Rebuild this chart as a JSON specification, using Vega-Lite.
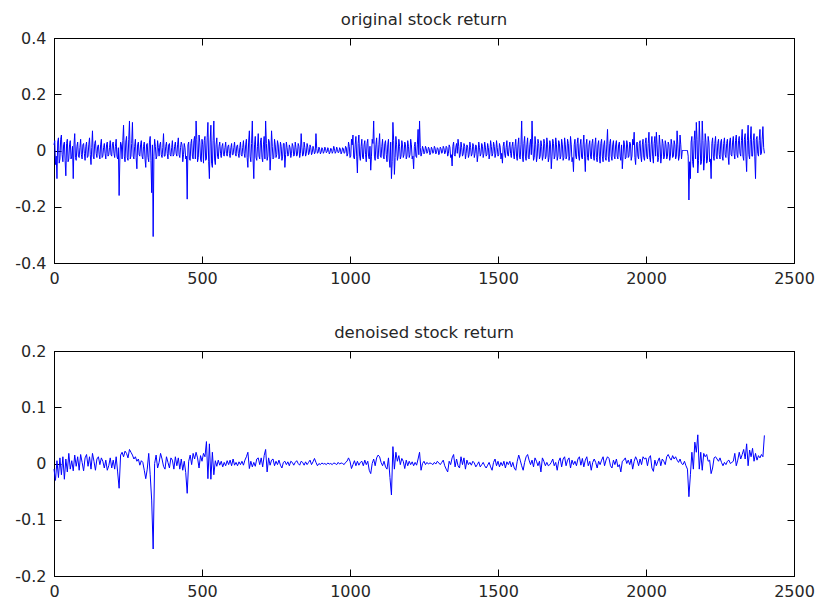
{
"$schema": "https://vega.github.io/schema/vega-lite/v6.json",
"padding": {"left": 14, "top": 11, "right": 2, "bottom": 2},
"background": "white",
"data": {"values": [
{"t":0,"o":0.02,"d":-0.01},{"t":5,"o":-0.05,"d":-0.03},{"t":10,"o":-0.10,"d":0.005},{"t":15,"o":0.045,"d":-0.025},{"t":20,"o":-0.03,"d":0.01},{"t":25,"o":0.055,"d":-0.02},{"t":30,"o":-0.04,"d":0.012},{"t":35,"o":0.03,"d":-0.028},{"t":40,"o":-0.09,"d":0.008},{"t":45,"o":0.04,"d":-0.015},
{"t":50,"o":-0.03,"d":0.018},{"t":55,"o":0.035,"d":-0.01},{"t":60,"o":-0.02,"d":0.005},{"t":65,"o":-0.10,"d":-0.013},{"t":70,"o":0.06,"d":0.015},{"t":75,"o":-0.035,"d":-0.005},{"t":80,"o":0.03,"d":0.012},{"t":85,"o":-0.025,"d":-0.012},{"t":90,"o":0.04,"d":0.016},{"t":95,"o":-0.03,"d":0.002},
{"t":100,"o":0.025,"d":-0.013},{"t":105,"o":-0.035,"d":0.01},{"t":110,"o":0.03,"d":0.016},{"t":115,"o":-0.02,"d":-0.005},{"t":120,"o":0.045,"d":0.012},{"t":125,"o":-0.05,"d":-0.01},{"t":130,"o":0.07,"d":0.018},{"t":135,"o":-0.03,"d":0.004},{"t":140,"o":0.035,"d":-0.012},{"t":145,"o":-0.025,"d":0.008},
{"t":150,"o":0.02,"d":0.012},{"t":155,"o":-0.03,"d":-0.002},{"t":160,"o":0.04,"d":0.01},{"t":165,"o":-0.02,"d":0.004},{"t":170,"o":0.025,"d":-0.008},{"t":175,"o":-0.03,"d":0.006},{"t":180,"o":0.03,"d":-0.012},{"t":185,"o":-0.015,"d":-0.004},{"t":190,"o":0.035,"d":0.01},{"t":195,"o":-0.02,"d":-0.008},
{"t":200,"o":0.03,"d":0.006},{"t":205,"o":-0.025,"d":-0.01},{"t":210,"o":0.04,"d":0.012},{"t":215,"o":-0.03,"d":-0.015},{"t":220,"o":-0.16,"d":-0.044},{"t":225,"o":0.03,"d":0.015},{"t":230,"o":-0.03,"d":0.02},{"t":235,"o":0.09,"d":0.012},{"t":240,"o":-0.04,"d":0.022},{"t":245,"o":0.05,"d":0.018},
{"t":250,"o":-0.035,"d":0.01},{"t":255,"o":0.105,"d":0.025},{"t":260,"o":-0.02,"d":0.02},{"t":265,"o":0.10,"d":0.015},{"t":270,"o":-0.03,"d":0.008},{"t":275,"o":0.04,"d":0.012},{"t":280,"o":-0.065,"d":0.004},{"t":285,"o":0.03,"d":0.008},{"t":290,"o":-0.02,"d":-0.003},{"t":295,"o":0.035,"d":0.005},
{"t":300,"o":-0.03,"d":0.002},{"t":305,"o":0.03,"d":-0.012},{"t":310,"o":-0.06,"d":-0.027},{"t":315,"o":0.025,"d":-0.01},{"t":320,"o":-0.04,"d":0.018},{"t":325,"o":0.05,"d":-0.02},{"t":330,"o":-0.15,"d":-0.065},{"t":335,"o":-0.306,"d":-0.152},{"t":340,"o":0.04,"d":0.0},{"t":345,"o":-0.03,"d":0.015},
{"t":350,"o":0.035,"d":-0.008},{"t":355,"o":-0.02,"d":0.002},{"t":360,"o":0.03,"d":0.018},{"t":365,"o":-0.025,"d":0.008},{"t":370,"o":0.06,"d":-0.005},{"t":375,"o":-0.02,"d":-0.01},{"t":380,"o":0.03,"d":0.012},{"t":385,"o":-0.03,"d":0.002},{"t":390,"o":0.025,"d":-0.008},{"t":395,"o":-0.02,"d":0.01},
{"t":400,"o":0.035,"d":0.006},{"t":405,"o":-0.015,"d":-0.01},{"t":410,"o":0.03,"d":0.012},{"t":415,"o":-0.02,"d":-0.004},{"t":420,"o":0.045,"d":0.01},{"t":425,"o":-0.025,"d":-0.01},{"t":430,"o":0.03,"d":0.008},{"t":435,"o":-0.04,"d":-0.012},{"t":440,"o":0.025,"d":0.004},{"t":445,"o":-0.03,"d":-0.016},
{"t":450,"o":-0.173,"d":-0.053},{"t":455,"o":0.03,"d":0.004},{"t":460,"o":-0.035,"d":0.015},{"t":465,"o":0.04,"d":-0.002},{"t":470,"o":-0.03,"d":0.018},{"t":475,"o":0.05,"d":0.008},{"t":480,"o":0.105,"d":0.02},{"t":485,"o":-0.04,"d":0.01},{"t":490,"o":0.055,"d":-0.008},{"t":495,"o":-0.03,"d":0.014},
{"t":500,"o":0.04,"d":0.004},{"t":505,"o":-0.045,"d":0.018},{"t":510,"o":0.05,"d":0.012},{"t":515,"o":-0.03,"d":0.039},{"t":520,"o":0.10,"d":-0.027},{"t":525,"o":-0.10,"d":0.035},{"t":530,"o":0.09,"d":-0.028},{"t":535,"o":-0.06,"d":0.02},{"t":540,"o":0.105,"d":-0.02},{"t":545,"o":-0.05,"d":0.005},
{"t":550,"o":0.045,"d":-0.005},{"t":555,"o":-0.03,"d":0.006},{"t":560,"o":0.03,"d":-0.003},{"t":565,"o":-0.025,"d":0.004},{"t":570,"o":0.025,"d":-0.006},{"t":575,"o":-0.02,"d":0.002},{"t":580,"o":0.03,"d":-0.004},{"t":585,"o":-0.02,"d":0.005},{"t":590,"o":0.02,"d":-0.002},{"t":595,"o":-0.025,"d":0.006},
{"t":600,"o":0.025,"d":-0.004},{"t":605,"o":-0.015,"d":0.008},{"t":610,"o":0.03,"d":-0.003},{"t":615,"o":-0.02,"d":0.002},{"t":620,"o":0.02,"d":-0.004},{"t":625,"o":-0.025,"d":0.003},{"t":630,"o":0.03,"d":-0.002},{"t":635,"o":-0.02,"d":0.004},{"t":640,"o":0.035,"d":-0.003},{"t":645,"o":-0.025,"d":0.006},
{"t":650,"o":0.04,"d":0.012},{"t":655,"o":-0.06,"d":0.02},{"t":660,"o":0.07,"d":-0.009},{"t":665,"o":-0.04,"d":0.004},{"t":670,"o":0.105,"d":-0.006},{"t":675,"o":-0.10,"d":0.002},{"t":680,"o":0.05,"d":-0.005},{"t":685,"o":-0.035,"d":0.008},{"t":690,"o":0.06,"d":0.01},{"t":695,"o":-0.03,"d":-0.002},
{"t":700,"o":0.045,"d":0.01},{"t":705,"o":-0.04,"d":-0.006},{"t":710,"o":0.05,"d":0.014},{"t":715,"o":0.105,"d":0.025},{"t":720,"o":-0.035,"d":-0.015},{"t":725,"o":0.04,"d":0.01},{"t":730,"o":-0.07,"d":-0.003},{"t":735,"o":0.07,"d":0.006},{"t":740,"o":-0.03,"d":0.008},{"t":745,"o":0.04,"d":-0.004},
{"t":750,"o":-0.025,"d":0.004},{"t":755,"o":0.035,"d":-0.002},{"t":760,"o":-0.03,"d":0.006},{"t":765,"o":0.03,"d":-0.003},{"t":770,"o":-0.035,"d":-0.008},{"t":775,"o":0.025,"d":0.002},{"t":780,"o":-0.06,"d":0.004},{"t":785,"o":0.03,"d":-0.002},{"t":790,"o":-0.02,"d":0.003},{"t":795,"o":0.02,"d":-0.004},
{"t":800,"o":-0.025,"d":0.004},{"t":805,"o":0.025,"d":0.002},{"t":810,"o":-0.02,"d":-0.003},{"t":815,"o":0.03,"d":0.002},{"t":820,"o":-0.02,"d":0.005},{"t":825,"o":0.025,"d":0.0},{"t":830,"o":-0.025,"d":-0.003},{"t":835,"o":0.06,"d":0.004},{"t":840,"o":-0.02,"d":0.002},{"t":845,"o":0.03,"d":-0.003},
{"t":850,"o":-0.02,"d":0.003},{"t":855,"o":0.025,"d":-0.002},{"t":860,"o":-0.015,"d":0.002},{"t":865,"o":0.02,"d":0.006},{"t":870,"o":-0.015,"d":-0.002},{"t":875,"o":0.015,"d":0.003},{"t":880,"o":-0.012,"d":0.009},{"t":885,"o":0.06,"d":0.002},{"t":890,"o":-0.01,"d":-0.004},{"t":895,"o":0.012,"d":0.0},
{"t":900,"o":-0.012,"d":-0.002},{"t":905,"o":0.01,"d":0.001},{"t":910,"o":-0.01,"d":-0.001},{"t":915,"o":0.012,"d":0.0},{"t":920,"o":-0.008,"d":-0.002},{"t":925,"o":0.01,"d":0.001},{"t":930,"o":-0.012,"d":-0.001},{"t":935,"o":0.008,"d":0.0},{"t":940,"o":-0.01,"d":-0.002},{"t":945,"o":0.015,"d":0.001},
{"t":950,"o":-0.01,"d":0.0},{"t":955,"o":0.012,"d":-0.002},{"t":960,"o":-0.008,"d":0.002},{"t":965,"o":0.01,"d":-0.001},{"t":970,"o":-0.012,"d":0.001},{"t":975,"o":0.01,"d":0.0},{"t":980,"o":-0.01,"d":-0.002},{"t":985,"o":0.015,"d":0.002},{"t":990,"o":-0.02,"d":0.004},{"t":995,"o":0.03,"d":0.01},
{"t":1000,"o":-0.025,"d":0.004},{"t":1005,"o":0.04,"d":-0.009},{"t":1010,"o":0.055,"d":-0.002},{"t":1015,"o":-0.03,"d":0.005},{"t":1020,"o":0.05,"d":-0.004},{"t":1025,"o":-0.08,"d":0.004},{"t":1030,"o":0.055,"d":-0.003},{"t":1035,"o":-0.035,"d":0.002},{"t":1040,"o":0.04,"d":0.004},{"t":1045,"o":-0.03,"d":-0.004},
{"t":1050,"o":0.035,"d":0.006},{"t":1055,"o":-0.04,"d":-0.002},{"t":1060,"o":0.04,"d":0.004},{"t":1065,"o":-0.03,"d":-0.012},{"t":1070,"o":-0.07,"d":-0.018},{"t":1075,"o":0.04,"d":0.0},{"t":1080,"o":0.105,"d":0.008},{"t":1085,"o":-0.035,"d":-0.004},{"t":1090,"o":0.045,"d":0.01},{"t":1095,"o":-0.03,"d":0.015},
{"t":1100,"o":0.06,"d":0.012},{"t":1105,"o":-0.025,"d":0.002},{"t":1110,"o":0.04,"d":-0.004},{"t":1115,"o":-0.03,"d":0.004},{"t":1120,"o":0.035,"d":-0.006},{"t":1125,"o":-0.04,"d":-0.01},{"t":1130,"o":0.04,"d":0.01},{"t":1135,"o":-0.06,"d":-0.025},{"t":1140,"o":-0.10,"d":-0.056},{"t":1145,"o":0.10,"d":0.03},
{"t":1150,"o":-0.085,"d":-0.01},{"t":1155,"o":0.05,"d":0.02},{"t":1160,"o":-0.035,"d":0.004},{"t":1165,"o":0.04,"d":0.014},{"t":1170,"o":-0.03,"d":-0.002},{"t":1175,"o":0.035,"d":0.009},{"t":1180,"o":-0.025,"d":0.004},{"t":1185,"o":0.03,"d":-0.009},{"t":1190,"o":-0.03,"d":0.006},{"t":1195,"o":0.035,"d":-0.004},
{"t":1200,"o":-0.025,"d":0.004},{"t":1205,"o":0.04,"d":-0.002},{"t":1210,"o":-0.03,"d":0.003},{"t":1215,"o":-0.065,"d":-0.004},{"t":1220,"o":0.03,"d":0.002},{"t":1225,"o":-0.025,"d":-0.003},{"t":1230,"o":0.075,"d":0.008},{"t":1235,"o":0.105,"d":0.02},{"t":1240,"o":-0.02,"d":-0.012},{"t":1245,"o":0.015,"d":0.0},
{"t":1250,"o":-0.012,"d":0.004},{"t":1255,"o":0.015,"d":-0.002},{"t":1260,"o":-0.01,"d":0.002},{"t":1265,"o":0.012,"d":-0.001},{"t":1270,"o":-0.015,"d":0.001},{"t":1275,"o":0.012,"d":0.0},{"t":1280,"o":-0.01,"d":-0.002},{"t":1285,"o":0.015,"d":0.002},{"t":1290,"o":-0.012,"d":-0.001},{"t":1295,"o":0.01,"d":0.004},
{"t":1300,"o":-0.015,"d":0.001},{"t":1305,"o":0.012,"d":-0.002},{"t":1310,"o":-0.01,"d":0.002},{"t":1315,"o":0.015,"d":0.006},{"t":1320,"o":-0.012,"d":-0.004},{"t":1325,"o":0.015,"d":-0.01},{"t":1330,"o":-0.02,"d":-0.015},{"t":1335,"o":0.02,"d":0.004},{"t":1340,"o":-0.025,"d":-0.002},{"t":1345,"o":-0.055,"d":0.01},
{"t":1350,"o":0.03,"d":0.016},{"t":1355,"o":-0.02,"d":-0.006},{"t":1360,"o":0.025,"d":0.008},{"t":1365,"o":0.04,"d":-0.004},{"t":1370,"o":-0.025,"d":-0.008},{"t":1375,"o":0.03,"d":0.012},{"t":1380,"o":-0.02,"d":-0.002},{"t":1385,"o":0.025,"d":0.01},{"t":1390,"o":-0.03,"d":-0.01},{"t":1395,"o":0.02,"d":0.006},
{"t":1400,"o":-0.025,"d":-0.002},{"t":1405,"o":0.03,"d":0.002},{"t":1410,"o":-0.02,"d":-0.003},{"t":1415,"o":0.025,"d":0.004},{"t":1420,"o":-0.025,"d":0.001},{"t":1425,"o":0.02,"d":-0.006},{"t":1430,"o":-0.04,"d":-0.002},{"t":1435,"o":0.03,"d":0.003},{"t":1440,"o":-0.02,"d":-0.006},{"t":1445,"o":0.025,"d":-0.002},
{"t":1450,"o":-0.025,"d":0.002},{"t":1455,"o":0.03,"d":-0.004},{"t":1460,"o":-0.02,"d":-0.008},{"t":1465,"o":0.025,"d":-0.003},{"t":1470,"o":-0.03,"d":0.002},{"t":1475,"o":0.035,"d":-0.006},{"t":1480,"o":-0.02,"d":-0.012},{"t":1485,"o":0.03,"d":0.002},{"t":1490,"o":-0.025,"d":0.008},{"t":1495,"o":0.035,"d":-0.004},
{"t":1500,"o":-0.02,"d":0.004},{"t":1505,"o":0.025,"d":-0.006},{"t":1510,"o":-0.03,"d":0.002},{"t":1515,"o":-0.045,"d":-0.004},{"t":1520,"o":0.03,"d":0.004},{"t":1525,"o":-0.025,"d":-0.008},{"t":1530,"o":0.035,"d":0.003},{"t":1535,"o":-0.02,"d":-0.002},{"t":1540,"o":0.03,"d":0.004},{"t":1545,"o":-0.025,"d":-0.006},
{"t":1550,"o":0.03,"d":0.002},{"t":1555,"o":-0.03,"d":-0.008},{"t":1560,"o":0.04,"d":-0.012},{"t":1565,"o":-0.035,"d":0.004},{"t":1570,"o":0.045,"d":0.015},{"t":1575,"o":-0.03,"d":0.006},{"t":1580,"o":0.105,"d":-0.004},{"t":1585,"o":-0.04,"d":-0.012},{"t":1590,"o":0.05,"d":0.002},{"t":1595,"o":-0.035,"d":0.012},
{"t":1600,"o":0.045,"d":0.016},{"t":1605,"o":-0.03,"d":0.006},{"t":1610,"o":0.04,"d":-0.002},{"t":1615,"o":0.105,"d":0.006},{"t":1620,"o":-0.035,"d":-0.006},{"t":1625,"o":0.05,"d":0.01},{"t":1630,"o":-0.04,"d":0.004},{"t":1635,"o":0.04,"d":-0.004},{"t":1640,"o":-0.03,"d":0.004},{"t":1645,"o":0.035,"d":-0.015},
{"t":1650,"o":-0.035,"d":0.01},{"t":1655,"o":0.04,"d":0.004},{"t":1660,"o":-0.03,"d":-0.004},{"t":1665,"o":0.045,"d":0.002},{"t":1670,"o":-0.04,"d":-0.004},{"t":1675,"o":0.035,"d":-0.002},{"t":1680,"o":-0.065,"d":0.002},{"t":1685,"o":0.04,"d":0.008},{"t":1690,"o":-0.03,"d":-0.004},{"t":1695,"o":0.045,"d":0.002},
{"t":1700,"o":-0.035,"d":-0.012},{"t":1705,"o":0.035,"d":0.004},{"t":1710,"o":-0.03,"d":0.01},{"t":1715,"o":0.04,"d":-0.006},{"t":1720,"o":-0.035,"d":0.008},{"t":1725,"o":0.045,"d":0.012},{"t":1730,"o":-0.03,"d":-0.004},{"t":1735,"o":0.04,"d":0.006},{"t":1740,"o":-0.035,"d":0.01},{"t":1745,"o":0.05,"d":-0.008},
{"t":1750,"o":-0.04,"d":0.006},{"t":1755,"o":-0.075,"d":-0.002},{"t":1760,"o":0.04,"d":0.004},{"t":1765,"o":-0.03,"d":-0.004},{"t":1770,"o":0.045,"d":0.008},{"t":1775,"o":-0.035,"d":0.012},{"t":1780,"o":0.04,"d":-0.003},{"t":1785,"o":-0.03,"d":0.009},{"t":1790,"o":0.055,"d":-0.006},{"t":1795,"o":-0.075,"d":0.006},
{"t":1800,"o":0.04,"d":0.012},{"t":1805,"o":-0.035,"d":-0.004},{"t":1810,"o":0.035,"d":0.004},{"t":1815,"o":-0.03,"d":-0.012},{"t":1820,"o":0.04,"d":0.002},{"t":1825,"o":-0.035,"d":0.008},{"t":1830,"o":0.045,"d":0.002},{"t":1835,"o":-0.04,"d":-0.008},{"t":1840,"o":0.035,"d":0.004},{"t":1845,"o":-0.045,"d":-0.002},
{"t":1850,"o":0.04,"d":0.006},{"t":1855,"o":-0.04,"d":0.012},{"t":1860,"o":0.035,"d":-0.004},{"t":1865,"o":-0.035,"d":0.006},{"t":1870,"o":0.075,"d":0.012},{"t":1875,"o":-0.04,"d":0.009},{"t":1880,"o":0.04,"d":-0.004},{"t":1885,"o":-0.035,"d":-0.008},{"t":1890,"o":0.035,"d":0.006},{"t":1895,"o":-0.03,"d":-0.002},
{"t":1900,"o":0.035,"d":0.008},{"t":1905,"o":-0.03,"d":-0.006},{"t":1910,"o":0.03,"d":-0.002},{"t":1915,"o":-0.035,"d":-0.015},{"t":1920,"o":-0.065,"d":0.004},{"t":1925,"o":0.035,"d":0.006},{"t":1930,"o":-0.03,"d":0.01},{"t":1935,"o":0.035,"d":0.0},{"t":1940,"o":-0.025,"d":0.006},{"t":1945,"o":0.03,"d":-0.002},
{"t":1950,"o":-0.035,"d":0.008},{"t":1955,"o":0.04,"d":-0.01},{"t":1960,"o":0.065,"d":0.004},{"t":1965,"o":-0.05,"d":0.012},{"t":1970,"o":0.03,"d":0.006},{"t":1975,"o":-0.03,"d":-0.004},{"t":1980,"o":0.035,"d":0.008},{"t":1985,"o":-0.04,"d":-0.002},{"t":1990,"o":0.04,"d":0.012},{"t":1995,"o":-0.035,"d":0.008},
{"t":2000,"o":0.045,"d":0.01},{"t":2005,"o":-0.03,"d":-0.004},{"t":2010,"o":0.065,"d":0.01},{"t":2015,"o":-0.04,"d":0.014},{"t":2020,"o":0.05,"d":-0.008},{"t":2025,"o":-0.045,"d":-0.014},{"t":2030,"o":0.05,"d":0.006},{"t":2035,"o":0.065,"d":-0.004},{"t":2040,"o":-0.04,"d":0.004},{"t":2045,"o":0.055,"d":0.01},
{"t":2050,"o":-0.045,"d":-0.004},{"t":2055,"o":0.04,"d":0.008},{"t":2060,"o":-0.03,"d":0.004},{"t":2065,"o":0.035,"d":-0.002},{"t":2070,"o":-0.03,"d":0.012},{"t":2075,"o":0.03,"d":0.016},{"t":2080,"o":-0.035,"d":0.01},{"t":2085,"o":0.04,"d":0.006},{"t":2090,"o":-0.025,"d":0.014},{"t":2095,"o":0.035,"d":0.008},
{"t":2100,"o":-0.03,"d":0.012},{"t":2105,"o":0.07,"d":0.006},{"t":2110,"o":-0.035,"d":0.002},{"t":2115,"o":0.055,"d":0.008},{"t":2120,"o":-0.03,"d":0.0},{"t":2125,"o":0.0,"d":-0.002},{"t":2130,"o":0.0,"d":0.004},{"t":2135,"o":0.0,"d":-0.004},{"t":2140,"o":0.0,"d":-0.01},{"t":2145,"o":-0.176,"d":-0.059},
{"t":2150,"o":-0.10,"d":-0.02},{"t":2155,"o":0.05,"d":0.02},{"t":2160,"o":-0.06,"d":-0.01},{"t":2165,"o":0.07,"d":0.038},{"t":2170,"o":0.10,"d":0.02},{"t":2175,"o":-0.08,"d":0.051},{"t":2180,"o":0.105,"d":-0.01},{"t":2185,"o":-0.05,"d":0.02},{"t":2190,"o":0.105,"d":-0.012},{"t":2195,"o":-0.07,"d":0.018},
{"t":2200,"o":0.06,"d":0.012},{"t":2205,"o":-0.045,"d":0.016},{"t":2210,"o":0.05,"d":0.004},{"t":2215,"o":-0.04,"d":0.006},{"t":2220,"o":-0.10,"d":-0.018},{"t":2225,"o":0.045,"d":-0.008},{"t":2230,"o":-0.035,"d":0.01},{"t":2235,"o":0.05,"d":0.012},{"t":2240,"o":-0.03,"d":0.008},{"t":2245,"o":0.04,"d":0.004},
{"t":2250,"o":-0.03,"d":0.01},{"t":2255,"o":0.04,"d":0.002},{"t":2260,"o":-0.035,"d":-0.004},{"t":2265,"o":0.045,"d":0.002},{"t":2270,"o":-0.025,"d":-0.002},{"t":2275,"o":0.04,"d":0.004},{"t":2280,"o":-0.05,"d":0.006},{"t":2285,"o":0.045,"d":0.0},{"t":2290,"o":-0.02,"d":0.002},{"t":2295,"o":0.05,"d":0.004},
{"t":2300,"o":-0.03,"d":0.018},{"t":2305,"o":0.055,"d":-0.004},{"t":2310,"o":-0.025,"d":0.006},{"t":2315,"o":0.05,"d":0.02},{"t":2320,"o":-0.02,"d":0.008},{"t":2325,"o":0.075,"d":0.016},{"t":2330,"o":-0.035,"d":0.025},{"t":2335,"o":0.06,"d":0.008},{"t":2340,"o":-0.075,"d":0.035},{"t":2345,"o":0.09,"d":-0.004},
{"t":2350,"o":-0.03,"d":0.024},{"t":2355,"o":0.085,"d":0.012},{"t":2360,"o":-0.02,"d":0.027},{"t":2365,"o":0.06,"d":0.004},{"t":2370,"o":-0.10,"d":0.018},{"t":2375,"o":0.05,"d":0.006},{"t":2380,"o":-0.02,"d":0.014},{"t":2385,"o":0.075,"d":0.01},{"t":2390,"o":-0.01,"d":0.016},{"t":2395,"o":0.085,"d":0.012},
{"t":2400,"o":-0.01,"d":0.05},
{"t":2.5,"o":0.035},{"t":7.5,"o":-0.02},{"t":12.5,"o":0.03},{"t":17.5,"o":-0.045},{"t":22.5,"o":0.04},{"t":27.5,"o":-0.015},{"t":32.5,"o":0.02},{"t":37.5,"o":-0.035},{"t":42.5,"o":0.025},{"t":47.5,"o":-0.04},
{"t":52.5,"o":0.02},{"t":57.5,"o":-0.03},{"t":62.5,"o":0.015},{"t":67.5,"o":0.02},{"t":72.5,"o":-0.025},{"t":77.5,"o":0.015},{"t":82.5,"o":-0.02},{"t":87.5,"o":0.01},{"t":92.5,"o":-0.015},{"t":97.5,"o":0.02},
{"t":102.5,"o":-0.01},{"t":107.5,"o":0.015},{"t":112.5,"o":-0.025},{"t":117.5,"o":0.02},{"t":122.5,"o":-0.015},{"t":127.5,"o":0.01},{"t":132.5,"o":-0.02},{"t":137.5,"o":0.025},{"t":142.5,"o":-0.01},{"t":147.5,"o":0.015},
{"t":152.5,"o":-0.015},{"t":157.5,"o":0.02},{"t":162.5,"o":-0.025},{"t":167.5,"o":0.01},{"t":172.5,"o":-0.01},{"t":177.5,"o":0.02},{"t":182.5,"o":-0.02},{"t":187.5,"o":0.01},{"t":192.5,"o":-0.015},{"t":197.5,"o":0.025},
{"t":202.5,"o":-0.01},{"t":207.5,"o":0.015},{"t":212.5,"o":-0.02},{"t":217.5,"o":0.01},{"t":222.5,"o":-0.03},{"t":227.5,"o":0.02},{"t":232.5,"o":0.035},{"t":237.5,"o":-0.02},{"t":242.5,"o":0.03},{"t":247.5,"o":-0.025},
{"t":252.5,"o":0.04},{"t":257.5,"o":-0.03},{"t":262.5,"o":0.025},{"t":267.5,"o":-0.02},{"t":272.5,"o":0.015},{"t":277.5,"o":-0.025},{"t":282.5,"o":0.02},{"t":287.5,"o":-0.015},{"t":292.5,"o":0.02},{"t":297.5,"o":-0.02},
{"t":302.5,"o":0.015},{"t":307.5,"o":-0.03},{"t":312.5,"o":0.02},{"t":317.5,"o":-0.025},{"t":322.5,"o":0.03},{"t":327.5,"o":-0.035},{"t":332.5,"o":0.02},{"t":337.5,"o":-0.02},{"t":342.5,"o":0.015},{"t":347.5,"o":-0.02},
{"t":352.5,"o":0.01},{"t":357.5,"o":0.02},{"t":362.5,"o":-0.015},{"t":367.5,"o":0.01},{"t":372.5,"o":-0.02},{"t":377.5,"o":0.015},{"t":382.5,"o":-0.01},{"t":387.5,"o":0.02},{"t":392.5,"o":-0.015},{"t":397.5,"o":0.01},
{"t":402.5,"o":-0.02},{"t":407.5,"o":0.015},{"t":412.5,"o":-0.01},{"t":417.5,"o":0.02},{"t":422.5,"o":-0.015},{"t":427.5,"o":0.01},{"t":432.5,"o":0.02},{"t":437.5,"o":-0.015},{"t":442.5,"o":0.01},{"t":447.5,"o":-0.02},
{"t":452.5,"o":0.02},{"t":457.5,"o":-0.03},{"t":462.5,"o":0.025},{"t":467.5,"o":-0.02},{"t":472.5,"o":0.035},{"t":477.5,"o":-0.03},{"t":482.5,"o":0.04},{"t":487.5,"o":-0.025},{"t":492.5,"o":0.03},{"t":497.5,"o":-0.04},
{"t":502.5,"o":0.02},{"t":507.5,"o":0.035},{"t":512.5,"o":-0.035},{"t":517.5,"o":0.045},{"t":522.5,"o":-0.04},{"t":527.5,"o":0.03},{"t":532.5,"o":-0.045},{"t":537.5,"o":0.035},{"t":542.5,"o":-0.03},{"t":547.5,"o":0.02},
{"t":552.5,"o":-0.02},{"t":557.5,"o":0.015},{"t":562.5,"o":-0.01},{"t":567.5,"o":0.015},{"t":572.5,"o":-0.015},{"t":577.5,"o":0.01},{"t":582.5,"o":-0.01},{"t":587.5,"o":0.015},{"t":592.5,"o":-0.01},{"t":597.5,"o":0.01},
{"t":602.5,"o":-0.015},{"t":607.5,"o":0.01},{"t":612.5,"o":-0.01},{"t":617.5,"o":0.015},{"t":622.5,"o":-0.01},{"t":627.5,"o":0.01},{"t":632.5,"o":-0.015},{"t":637.5,"o":0.01},{"t":642.5,"o":-0.01},{"t":647.5,"o":0.02},
{"t":652.5,"o":-0.025},{"t":657.5,"o":0.03},{"t":662.5,"o":-0.02},{"t":667.5,"o":0.025},{"t":672.5,"o":-0.03},{"t":677.5,"o":0.02},{"t":682.5,"o":-0.025},{"t":687.5,"o":0.015},{"t":692.5,"o":-0.02},{"t":697.5,"o":0.03},
{"t":702.5,"o":-0.025},{"t":707.5,"o":0.02},{"t":712.5,"o":-0.03},{"t":717.5,"o":0.025},{"t":722.5,"o":-0.02},{"t":727.5,"o":0.03},{"t":732.5,"o":-0.02},{"t":737.5,"o":0.015},{"t":742.5,"o":-0.025},{"t":747.5,"o":0.02},
{"t":752.5,"o":-0.015},{"t":757.5,"o":0.02},{"t":762.5,"o":-0.02},{"t":767.5,"o":0.015},{"t":772.5,"o":-0.02},{"t":777.5,"o":0.025},{"t":782.5,"o":-0.015},{"t":787.5,"o":0.01},{"t":792.5,"o":-0.015},{"t":797.5,"o":0.01},
{"t":802.5,"o":-0.01},{"t":807.5,"o":0.015},{"t":812.5,"o":-0.015},{"t":817.5,"o":0.01},{"t":822.5,"o":-0.012},{"t":827.5,"o":0.015},{"t":832.5,"o":-0.01},{"t":837.5,"o":0.012},{"t":842.5,"o":-0.015},{"t":847.5,"o":0.01},
{"t":852.5,"o":-0.01},{"t":857.5,"o":0.012},{"t":862.5,"o":-0.008},{"t":867.5,"o":0.01},{"t":872.5,"o":-0.008},{"t":877.5,"o":0.006},{"t":882.5,"o":-0.006},{"t":887.5,"o":0.008},{"t":892.5,"o":-0.006},{"t":897.5,"o":0.005},
{"t":902.5,"o":-0.006},{"t":907.5,"o":0.005},{"t":912.5,"o":-0.004},{"t":917.5,"o":0.006},{"t":922.5,"o":-0.005},{"t":927.5,"o":0.004},{"t":932.5,"o":-0.006},{"t":937.5,"o":0.005},{"t":942.5,"o":-0.004},{"t":947.5,"o":0.006},
{"t":952.5,"o":-0.005},{"t":957.5,"o":0.004},{"t":962.5,"o":-0.006},{"t":967.5,"o":0.005},{"t":972.5,"o":-0.005},{"t":977.5,"o":0.006},{"t":982.5,"o":-0.008},{"t":987.5,"o":0.01},{"t":992.5,"o":-0.012},{"t":997.5,"o":0.015},
{"t":1002.5,"o":-0.02},{"t":1007.5,"o":0.02},{"t":1012.5,"o":-0.025},{"t":1017.5,"o":0.02},{"t":1022.5,"o":-0.02},{"t":1027.5,"o":0.025},{"t":1032.5,"o":-0.02},{"t":1037.5,"o":0.015},{"t":1042.5,"o":-0.025},{"t":1047.5,"o":0.02},
{"t":1052.5,"o":-0.015},{"t":1057.5,"o":0.025},{"t":1062.5,"o":-0.02},{"t":1067.5,"o":0.015},{"t":1072.5,"o":-0.02},{"t":1077.5,"o":0.025},{"t":1082.5,"o":-0.02},{"t":1087.5,"o":0.02},{"t":1092.5,"o":-0.025},{"t":1097.5,"o":0.02},
{"t":1102.5,"o":-0.02},{"t":1107.5,"o":0.015},{"t":1112.5,"o":-0.02},{"t":1117.5,"o":0.025},{"t":1122.5,"o":-0.015},{"t":1127.5,"o":0.02},{"t":1132.5,"o":-0.03},{"t":1137.5,"o":0.03},{"t":1142.5,"o":-0.04},{"t":1147.5,"o":0.035},
{"t":1152.5,"o":-0.025},{"t":1157.5,"o":0.02},{"t":1162.5,"o":-0.02},{"t":1167.5,"o":0.015},{"t":1172.5,"o":-0.02},{"t":1177.5,"o":0.02},{"t":1182.5,"o":-0.015},{"t":1187.5,"o":0.02},{"t":1192.5,"o":-0.02},{"t":1197.5,"o":0.015},
{"t":1202.5,"o":-0.015},{"t":1207.5,"o":0.02},{"t":1212.5,"o":-0.02},{"t":1217.5,"o":0.015},{"t":1222.5,"o":-0.02},{"t":1227.5,"o":0.02},{"t":1232.5,"o":-0.015},{"t":1237.5,"o":0.01},{"t":1242.5,"o":-0.008},{"t":1247.5,"o":0.006},
{"t":1252.5,"o":-0.006},{"t":1257.5,"o":0.008},{"t":1262.5,"o":-0.005},{"t":1267.5,"o":0.006},{"t":1272.5,"o":-0.008},{"t":1277.5,"o":0.005},{"t":1282.5,"o":-0.006},{"t":1287.5,"o":0.008},{"t":1292.5,"o":-0.005},{"t":1297.5,"o":0.006},
{"t":1302.5,"o":-0.008},{"t":1307.5,"o":0.006},{"t":1312.5,"o":-0.005},{"t":1317.5,"o":0.008},{"t":1322.5,"o":-0.006},{"t":1327.5,"o":0.01},{"t":1332.5,"o":-0.01},{"t":1337.5,"o":0.012},{"t":1342.5,"o":-0.015},{"t":1347.5,"o":0.015},
{"t":1352.5,"o":-0.015},{"t":1357.5,"o":0.012},{"t":1362.5,"o":-0.01},{"t":1367.5,"o":0.015},{"t":1372.5,"o":-0.015},{"t":1377.5,"o":0.01},{"t":1382.5,"o":-0.012},{"t":1387.5,"o":0.015},{"t":1392.5,"o":-0.01},{"t":1397.5,"o":0.012},
{"t":1402.5,"o":-0.015},{"t":1407.5,"o":0.01},{"t":1412.5,"o":-0.012},{"t":1417.5,"o":0.015},{"t":1422.5,"o":-0.01},{"t":1427.5,"o":0.012},{"t":1432.5,"o":-0.015},{"t":1437.5,"o":0.01},{"t":1442.5,"o":-0.012},{"t":1447.5,"o":0.015},
{"t":1452.5,"o":-0.01},{"t":1457.5,"o":0.012},{"t":1462.5,"o":-0.015},{"t":1467.5,"o":0.01},{"t":1472.5,"o":-0.012},{"t":1477.5,"o":0.015},{"t":1482.5,"o":-0.01},{"t":1487.5,"o":0.015},{"t":1492.5,"o":-0.012},{"t":1497.5,"o":0.01},
{"t":1502.5,"o":-0.015},{"t":1507.5,"o":0.012},{"t":1512.5,"o":-0.01},{"t":1517.5,"o":0.015},{"t":1522.5,"o":-0.012},{"t":1527.5,"o":0.01},{"t":1532.5,"o":-0.015},{"t":1537.5,"o":0.012},{"t":1542.5,"o":-0.01},{"t":1547.5,"o":0.015},
{"t":1552.5,"o":-0.012},{"t":1557.5,"o":0.015},{"t":1562.5,"o":-0.02},{"t":1567.5,"o":0.02},{"t":1572.5,"o":-0.025},{"t":1577.5,"o":0.02},{"t":1582.5,"o":-0.02},{"t":1587.5,"o":0.025},{"t":1592.5,"o":-0.02},{"t":1597.5,"o":0.02},
{"t":1602.5,"o":-0.025},{"t":1607.5,"o":0.02},{"t":1612.5,"o":-0.015},{"t":1617.5,"o":0.02},{"t":1622.5,"o":-0.025},{"t":1627.5,"o":0.02},{"t":1632.5,"o":-0.02},{"t":1637.5,"o":0.025},{"t":1642.5,"o":-0.02},{"t":1647.5,"o":0.015},
{"t":1652.5,"o":-0.02},{"t":1657.5,"o":0.025},{"t":1662.5,"o":-0.02},{"t":1667.5,"o":0.02},{"t":1672.5,"o":-0.025},{"t":1677.5,"o":0.02},{"t":1682.5,"o":-0.02},{"t":1687.5,"o":0.025},{"t":1692.5,"o":-0.02},{"t":1697.5,"o":0.02},
{"t":1702.5,"o":-0.02},{"t":1707.5,"o":0.025},{"t":1712.5,"o":-0.02},{"t":1717.5,"o":0.02},{"t":1722.5,"o":-0.025},{"t":1727.5,"o":0.02},{"t":1732.5,"o":-0.02},{"t":1737.5,"o":0.025},{"t":1742.5,"o":-0.02},{"t":1747.5,"o":0.02},
{"t":1752.5,"o":-0.025},{"t":1757.5,"o":0.02},{"t":1762.5,"o":-0.02},{"t":1767.5,"o":0.025},{"t":1772.5,"o":-0.02},{"t":1777.5,"o":0.02},{"t":1782.5,"o":-0.025},{"t":1787.5,"o":0.02},{"t":1792.5,"o":-0.02},{"t":1797.5,"o":0.02},
{"t":1802.5,"o":-0.025},{"t":1807.5,"o":0.02},{"t":1812.5,"o":-0.02},{"t":1817.5,"o":0.025},{"t":1822.5,"o":-0.02},{"t":1827.5,"o":0.02},{"t":1832.5,"o":-0.025},{"t":1837.5,"o":0.02},{"t":1842.5,"o":-0.02},{"t":1847.5,"o":0.025},
{"t":1852.5,"o":-0.02},{"t":1857.5,"o":0.02},{"t":1862.5,"o":-0.025},{"t":1867.5,"o":0.02},{"t":1872.5,"o":-0.02},{"t":1877.5,"o":0.025},{"t":1882.5,"o":-0.02},{"t":1887.5,"o":0.02},{"t":1892.5,"o":-0.02},{"t":1897.5,"o":0.02},
{"t":1902.5,"o":-0.02},{"t":1907.5,"o":0.02},{"t":1912.5,"o":-0.02},{"t":1917.5,"o":0.02},{"t":1922.5,"o":-0.02},{"t":1927.5,"o":0.02},{"t":1932.5,"o":-0.025},{"t":1937.5,"o":0.02},{"t":1942.5,"o":-0.02},{"t":1947.5,"o":0.025},
{"t":1952.5,"o":-0.02},{"t":1957.5,"o":0.02},{"t":1962.5,"o":-0.025},{"t":1967.5,"o":0.02},{"t":1972.5,"o":-0.02},{"t":1977.5,"o":0.025},{"t":1982.5,"o":-0.02},{"t":1987.5,"o":0.02},{"t":1992.5,"o":-0.025},{"t":1997.5,"o":0.025},
{"t":2002.5,"o":-0.02},{"t":2007.5,"o":0.025},{"t":2012.5,"o":-0.025},{"t":2017.5,"o":0.02},{"t":2022.5,"o":-0.02},{"t":2027.5,"o":0.025},{"t":2032.5,"o":-0.02},{"t":2037.5,"o":0.02},{"t":2042.5,"o":-0.025},{"t":2047.5,"o":0.02},
{"t":2052.5,"o":-0.02},{"t":2057.5,"o":0.025},{"t":2062.5,"o":-0.02},{"t":2067.5,"o":0.02},{"t":2072.5,"o":-0.02},{"t":2077.5,"o":0.02},{"t":2082.5,"o":-0.02},{"t":2087.5,"o":0.02},{"t":2092.5,"o":-0.02},{"t":2097.5,"o":0.02},
{"t":2102.5,"o":-0.02},{"t":2107.5,"o":0.02},{"t":2112.5,"o":-0.02},{"t":2117.5,"o":0.02},{"t":2122.5,"o":0.0},{"t":2127.5,"o":0.0},{"t":2132.5,"o":0.0},{"t":2137.5,"o":0.0},{"t":2142.5,"o":-0.02},{"t":2147.5,"o":-0.04},
{"t":2152.5,"o":0.03},{"t":2157.5,"o":-0.04},{"t":2162.5,"o":0.035},{"t":2167.5,"o":-0.03},{"t":2172.5,"o":0.04},{"t":2177.5,"o":-0.035},{"t":2182.5,"o":0.03},{"t":2187.5,"o":-0.04},{"t":2192.5,"o":0.035},{"t":2197.5,"o":-0.03},
{"t":2202.5,"o":0.03},{"t":2207.5,"o":-0.035},{"t":2212.5,"o":0.03},{"t":2217.5,"o":-0.03},{"t":2222.5,"o":0.025},{"t":2227.5,"o":-0.02},{"t":2232.5,"o":0.025},{"t":2237.5,"o":-0.02},{"t":2242.5,"o":0.025},{"t":2247.5,"o":-0.015},
{"t":2252.5,"o":0.03},{"t":2257.5,"o":-0.02},{"t":2262.5,"o":0.025},{"t":2267.5,"o":-0.015},{"t":2272.5,"o":0.025},{"t":2277.5,"o":-0.02},{"t":2282.5,"o":0.03},{"t":2287.5,"o":-0.015},{"t":2292.5,"o":0.03},{"t":2297.5,"o":-0.01},
{"t":2302.5,"o":0.035},{"t":2307.5,"o":-0.015},{"t":2312.5,"o":0.035},{"t":2317.5,"o":-0.01},{"t":2322.5,"o":0.035},{"t":2327.5,"o":-0.02},{"t":2332.5,"o":0.04},{"t":2337.5,"o":-0.02},{"t":2342.5,"o":0.035},{"t":2347.5,"o":-0.015},
{"t":2352.5,"o":0.04},{"t":2357.5,"o":-0.02},{"t":2362.5,"o":0.035},{"t":2367.5,"o":-0.02},{"t":2372.5,"o":0.04},{"t":2377.5,"o":-0.01},{"t":2382.5,"o":0.035},{"t":2387.5,"o":-0.015},{"t":2392.5,"o":0.04},{"t":2397.5,"o":0.01}
]},
"spacing": 37,
"vconcat": [
{
"width": 740, "height": 225,
"title": {"text": "original stock return", "fontSize": 16.5, "font": "DejaVu Sans", "fontWeight": "normal", "color": "#262626", "baseline": "alphabetic", "offset": -11},
"layer": [
{"mark": {"type": "line", "color": "#0000ff", "strokeWidth": 1, "invalid": "filter"},
 "encoding": {
  "x": {"field": "t", "type": "quantitative", "scale": {"domain": [0, 2500], "nice": false},
        "axis": {"orient": "bottom", "title": null, "values": [0,500,1000,1500,2000,2500], "format": "d", "labelPadding": 14, "labelFlush": false, "labelOverlap": false}},
  "y": {"field": "o", "type": "quantitative", "scale": {"domain": [-0.4, 0.4], "nice": false, "zero": false},
        "axis": {"orient": "left", "title": null, "values": [-0.4,-0.2,0,0.2,0.4], "labelPadding": 15, "labelOverlap": false,
                 "labelExpr": "datum.value < 0 ? '-' + format(-datum.value, '') : format(datum.value, '')"}}
 }},
{"mark": {"type": "point", "opacity": 0},
 "encoding": {
  "x": {"field": "t", "type": "quantitative", "axis": {"orient": "top", "title": null, "labels": false, "values": [0,500,1000,1500,2000,2500]}},
  "y": {"field": "o", "type": "quantitative", "axis": {"orient": "right", "title": null, "labels": false, "values": [-0.4,-0.2,0,0.2,0.4]}}
 }}
]
},
{
"width": 740, "height": 225,
"title": {"text": "denoised stock return", "fontSize": 16.5, "font": "DejaVu Sans", "fontWeight": "normal", "color": "#262626", "baseline": "alphabetic", "offset": -11},
"layer": [
{"mark": {"type": "line", "color": "#0000ff", "strokeWidth": 1, "invalid": "filter"},
 "encoding": {
  "x": {"field": "t", "type": "quantitative", "scale": {"domain": [0, 2500], "nice": false},
        "axis": {"orient": "bottom", "title": null, "values": [0,500,1000,1500,2000,2500], "format": "d", "labelPadding": 14, "labelFlush": false, "labelOverlap": false}},
  "y": {"field": "d", "type": "quantitative", "scale": {"domain": [-0.2, 0.2], "nice": false, "zero": false},
        "axis": {"orient": "left", "title": null, "values": [-0.2,-0.1,0,0.1,0.2], "labelPadding": 15, "labelOverlap": false,
                 "labelExpr": "datum.value < 0 ? '-' + format(-datum.value, '') : format(datum.value, '')"}}
 }},
{"mark": {"type": "point", "opacity": 0, "invalid": "filter"},
 "encoding": {
  "x": {"field": "t", "type": "quantitative", "axis": {"orient": "top", "title": null, "labels": false, "values": [0,500,1000,1500,2000,2500]}},
  "y": {"field": "d", "type": "quantitative", "axis": {"orient": "right", "title": null, "labels": false, "values": [-0.2,-0.1,0,0.1,0.2]}}
 }}
]
}
],
"config": {
 "view": {"stroke": "#000000", "strokeWidth": 1},
 "axis": {"grid": false, "tickSize": -7, "tickColor": "#000000", "tickWidth": 1, "domainColor": "#000000", "domainWidth": 1,
          "labelFont": "DejaVu Sans", "labelFontSize": 16, "labelColor": "#262626"}
}
}
